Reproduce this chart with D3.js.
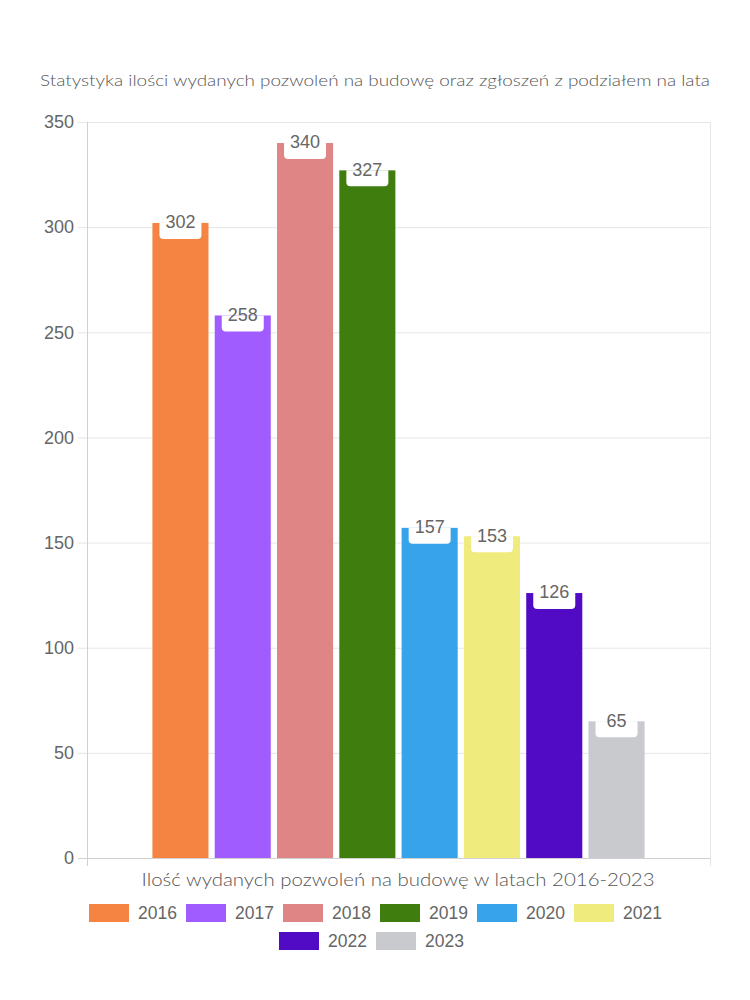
<!DOCTYPE html>
<html><head><meta charset="utf-8">
<script src="https://cdn.jsdelivr.net/npm/d3@7"></script>
<style>body{margin:0;background:#fff}</style>
</head><body>
<svg id="c" width="750" height="1000"></svg>
<script>
const years = ["2016","2017","2018","2019","2020","2021","2022","2023"];
const values = [302, 258, 340, 327, 157, 153, 126, 65];
const colors = ["#F58442","#A05CFF","#E08585","#3E7D0E","#37A3EB","#F0EB7D","#520BC4","#C9CACE"];
const yTicks = [0, 50, 100, 150, 200, 250, 300, 350];
const titleText = "Statystyka ilości wydanych pozwoleń na budowę oraz zgłoszeń z podziałem na lata";
const xTitle = "Ilość wydanych pozwoleń na budowę w latach 2016-2023";

const svg = d3.select("#c");
const L = 87, R = 710, T = 122, B = 858;
const txtFont = "Lato, 'Noto Sans', sans-serif";
const numFont = "'Liberation Sans', Arial, sans-serif";
const grey = "#666";

const y = d3.scaleLinear().domain([0, 350]).range([B, T]);
const xOuter = d3.scaleBand().domain(["g"]).range([L, R]).paddingInner(0).paddingOuter(0);
const cw = xOuter.bandwidth();
const x = d3.scaleBand().domain(years).range([L + cw*0.1, R - cw*0.1]).paddingInner(0.1).paddingOuter(0.05);

// title
svg.append("text").attr("x", 375).attr("y", 86).attr("text-anchor","middle")
  .attr("font-family", txtFont).attr("font-size", 16).attr("font-weight", 300).attr("fill", "#555")
  .attr("textLength", 670).attr("lengthAdjust","spacingAndGlyphs")
  .text(titleText);

// grid
svg.append("g").selectAll("line").data(yTicks).join("line")
  .attr("x1", L - 9).attr("x2", R).attr("y1", d => y(d) + 0.5).attr("y2", d => y(d) + 0.5)
  .attr("stroke", d => d === 0 ? "#d0d0d0" : "#e6e6e6").attr("stroke-width", 1);
// vertical lines
[L, R].forEach(v => {
  svg.append("line").attr("x1", v + 0.5).attr("x2", v + 0.5).attr("y1", T).attr("y2", B + 8)
    .attr("stroke", v === L ? "#d0d0d0" : "#e6e6e6");
});

// y tick labels
svg.append("g").selectAll("text").data(yTicks).join("text")
  .attr("x", 74).attr("y", d => y(d)).attr("dy", "0.35em").attr("text-anchor","end")
  .attr("font-family", numFont).attr("font-size", 18).attr("fill", grey)
  .text(d => d);

// bars
svg.append("g").selectAll("rect").data(years).join("rect")
  .attr("x", d => x(d)).attr("width", x.bandwidth())
  .attr("y", (d,i) => y(values[i])).attr("height", (d,i) => B - y(values[i]))
  .attr("fill", (d,i) => colors[i]);

// label boxes
const bw = 42, bh = 16, r = 4;
const lab = svg.append("g").selectAll("g").data(years).join("g")
  .attr("transform", (d,i) => `translate(${x(d) + x.bandwidth()/2},${y(values[i])})`);
lab.append("path").attr("fill", "#fff")
  .attr("d", `M${-bw/2},0 H${bw/2} V${bh-r} Q${bw/2},${bh} ${bw/2-r},${bh} H${-bw/2+r} Q${-bw/2},${bh} ${-bw/2},${bh-r} Z`);
lab.append("text").attr("text-anchor","middle").attr("y", -1).attr("dy","0.35em")
  .attr("font-family", numFont).attr("font-size", 18).attr("fill", grey)
  .text((d,i) => values[i]);

// x title
svg.append("text").attr("x", 398).attr("y", 886).attr("text-anchor","middle")
  .attr("font-family", txtFont).attr("font-size", 18).attr("font-weight", 300).attr("fill", "#555")
  .attr("textLength", 513).attr("lengthAdjust","spacingAndGlyphs")
  .text(xTitle);

// legend
const rows = [years.slice(0,6), years.slice(6)];
const itemW = 97;
rows.forEach((row, ri) => {
  const total = row.length * itemW - 10;
  const x0 = 375 - total/2 - (ri === 1 ? 4 : 0);
  const ly = 913 + ri * 28;
  row.forEach((yr, j) => {
    const i = years.indexOf(yr);
    const gx = x0 + j * itemW;
    svg.append("rect").attr("x", gx).attr("y", ly - 9).attr("width", 40).attr("height", 18)
      .attr("fill", colors[i]);
    svg.append("text").attr("x", gx + 49).attr("y", ly).attr("dy","0.35em")
      .attr("font-family", numFont).attr("font-size", 17.5).attr("fill", grey).text(yr);
  });
});
</script>
</body></html>
